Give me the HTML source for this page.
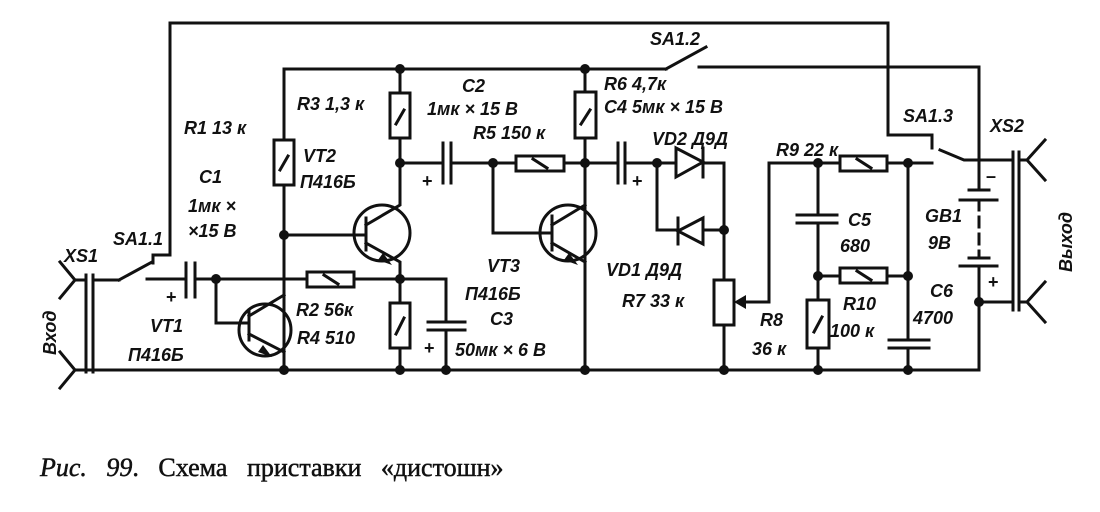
<!DOCTYPE html>
<html><head><meta charset="utf-8"><style>
html,body{margin:0;padding:0;background:#fff;}
svg{display:block}
.t{font-family:"Liberation Sans","DejaVu Sans",sans-serif;font-style:italic;font-weight:bold;font-size:18px;fill:#111;}
</style></head><body>
<svg width="1100" height="512" viewBox="0 0 1100 512" xmlns="http://www.w3.org/2000/svg">
<g stroke="#111" stroke-width="3" fill="none" stroke-linecap="square">
<polyline points="153,263 153,255 170,255 170,23 888,23 888,135 932,135 932,148"/>
<line x1="119" y1="280" x2="152" y2="262"/>
<line x1="93" y1="280" x2="119" y2="280"/>
<line x1="86" y1="275" x2="86" y2="372"/><line x1="93" y1="275" x2="93" y2="372"/>
<polyline points="60,262 75,280 60,298"/><line x1="75" y1="280" x2="86" y2="280"/>
<polyline points="60,352 75,370 60,388"/>
<line x1="75" y1="370" x2="979" y2="370"/>
<line x1="284" y1="69" x2="666" y2="69"/>
<line x1="666" y1="69" x2="706" y2="47"/>
<polyline points="699,67 979,67 979,190"/>
<line x1="284" y1="69" x2="284" y2="370"/>
<rect x="274" y="140" width="20" height="45" fill="#fff"/><line x1="280" y1="170" x2="288" y2="156"/>
<circle cx="382" cy="233" r="28"/>
<line x1="284" y1="235" x2="366" y2="235"/><line x1="366" y1="218" x2="366" y2="250"/>
<polyline points="366,225 400,205 400,69"/>
<polyline points="366,243 400,262 400,370"/>
<rect x="390" y="93" width="20" height="45" fill="#fff"/><line x1="396" y1="124" x2="404" y2="110"/>
<rect x="390" y="303" width="20" height="45" fill="#fff"/><line x1="396" y1="334" x2="404" y2="318"/>
<line x1="147" y1="279" x2="186" y2="279"/>
<line x1="186" y1="263" x2="186" y2="297"/><line x1="195" y1="263" x2="195" y2="297"/>
<line x1="195" y1="279" x2="446" y2="279"/>
<rect x="307" y="272" width="47" height="15" fill="#fff"/><line x1="324" y1="275" x2="338" y2="284"/>
<polyline points="446,279 446,322"/>
<line x1="428" y1="322" x2="465" y2="322"/><line x1="428" y1="330" x2="465" y2="330"/>
<line x1="446" y1="330" x2="446" y2="370"/>
<circle cx="265" cy="330" r="26"/>
<polyline points="216,279 216,323 249,323"/><line x1="249" y1="310" x2="249" y2="340"/>
<polyline points="249,316 284,295"/><polyline points="249,334 284,352"/>
<line x1="400" y1="163" x2="443" y2="163"/>
<line x1="443" y1="143" x2="443" y2="183"/><line x1="451" y1="143" x2="451" y2="183"/>
<line x1="451" y1="163" x2="618" y2="163"/>
<rect x="516" y="156" width="48" height="15" fill="#fff"/><line x1="533" y1="159" x2="547" y2="168"/>
<polyline points="493,163 493,233 552,233"/><line x1="552" y1="216" x2="552" y2="250"/>
<circle cx="568" cy="233" r="28"/>
<polyline points="552,225 585,205"/><polyline points="552,243 585,262"/>
<line x1="585" y1="69" x2="585" y2="370"/>
<rect x="575" y="92" width="21" height="46" fill="#fff"/><line x1="581" y1="124" x2="590" y2="110"/>
<line x1="618" y1="143" x2="618" y2="183"/><line x1="625" y1="143" x2="625" y2="183"/>
<line x1="625" y1="163" x2="724" y2="163"/>
<line x1="724" y1="163" x2="724" y2="370"/>
<polyline points="657,163 657,230 724,230"/>
<line x1="703" y1="148" x2="703" y2="177"/>
<line x1="678" y1="218" x2="678" y2="244"/>
<rect x="714" y="280" width="20" height="45" fill="#fff"/>
<polyline points="769,302 769,163 932,163"/>
<line x1="740" y1="302" x2="769" y2="302"/>
<rect x="840" y="156" width="47" height="15" fill="#fff"/><line x1="857" y1="159" x2="871" y2="168"/>
<line x1="818" y1="163" x2="818" y2="215"/>
<line x1="797" y1="215" x2="837" y2="215"/><line x1="797" y1="223" x2="837" y2="223"/>
<line x1="818" y1="223" x2="818" y2="370"/>
<line x1="818" y1="276" x2="908" y2="276"/>
<rect x="840" y="268" width="47" height="15" fill="#fff"/><line x1="857" y1="271" x2="871" y2="280"/>
<rect x="807" y="300" width="22" height="48" fill="#fff"/><line x1="814" y1="332" x2="822" y2="317"/>
<line x1="908" y1="163" x2="908" y2="340"/>
<line x1="889" y1="340" x2="929" y2="340"/><line x1="889" y1="348" x2="929" y2="348"/>
<line x1="908" y1="348" x2="908" y2="370"/>
<polyline points="940,150 964,160 1013,160"/>
<line x1="969" y1="190" x2="989" y2="190"/><line x1="960" y1="200" x2="997" y2="200"/>
<line x1="979" y1="200" x2="979" y2="258" stroke-dasharray="10,7"/>
<line x1="969" y1="258" x2="989" y2="258"/><line x1="960" y1="266" x2="997" y2="266"/>
<line x1="979" y1="266" x2="979" y2="370"/>
<line x1="979" y1="302" x2="1013" y2="302"/>
<line x1="1013" y1="152" x2="1013" y2="310"/><line x1="1019" y1="152" x2="1019" y2="310"/>
<line x1="1019" y1="160" x2="1027" y2="160"/><polyline points="1045,140 1027,160 1045,180"/>
<line x1="1019" y1="302" x2="1027" y2="302"/><polyline points="1045,282 1027,302 1045,322"/>
</g>
<g fill="#111">
<path d="M378,260 l14,5 -9,-12z M258,352 l14,5 -9,-12z M564,260 l14,5 -9,-12z"/>
<path d="M676,148 L703,162 L676,177Z" fill="#fff" stroke="#111" stroke-width="3"/>
<path d="M703,218 L678,231 L703,244Z" fill="#fff" stroke="#111" stroke-width="3"/>
<path d="M734,302 l12,-7 0,14z"/>
<circle cx="400" cy="69" r="5"/><circle cx="585" cy="69" r="5"/>
<circle cx="284" cy="235" r="5"/><circle cx="400" cy="163" r="5"/><circle cx="493" cy="163" r="5"/>
<circle cx="585" cy="163" r="5"/><circle cx="657" cy="163" r="5"/><circle cx="724" cy="230" r="5"/>
<circle cx="216" cy="279" r="5"/><circle cx="400" cy="279" r="5"/>
<circle cx="818" cy="163" r="5"/><circle cx="908" cy="163" r="5"/>
<circle cx="818" cy="276" r="5"/><circle cx="908" cy="276" r="5"/><circle cx="979" cy="302" r="5"/>
<circle cx="284" cy="370" r="5"/><circle cx="400" cy="370" r="5"/><circle cx="446" cy="370" r="5"/>
<circle cx="585" cy="370" r="5"/><circle cx="724" cy="370" r="5"/><circle cx="818" cy="370" r="5"/><circle cx="908" cy="370" r="5"/>
</g>
<g class="t">
<text x="650" y="45">SA1.2</text>
<text x="604" y="90">R6  4,7к</text>
<text x="604" y="113">C4  5мк × 15 В</text>
<text x="297" y="110">R3  1,3 к</text>
<text x="462" y="92">C2</text>
<text x="427" y="115">1мк × 15 В</text>
<text x="473" y="139">R5  150 к</text>
<text x="184" y="134">R1  13 к</text>
<text x="303" y="162">VT2</text>
<text x="300" y="188">П416Б</text>
<text x="199" y="183">C1</text>
<text x="188" y="212">1мк ×</text>
<text x="188" y="237">×15 В</text>
<text x="113" y="245">SA1.1</text>
<text x="64" y="262">XS1</text>
<text x="150" y="332">VT1</text>
<text x="128" y="361">П416Б</text>
<text x="296" y="316">R2  56к</text>
<text x="297" y="344">R4  510</text>
<text x="487" y="272">VT3</text>
<text x="465" y="300">П416Б</text>
<text x="490" y="325">C3</text>
<text x="455" y="356">50мк × 6 В</text>
<text x="652" y="145">VD2  Д9Д</text>
<text x="606" y="276">VD1   Д9Д</text>
<text x="622" y="307">R7  33 к</text>
<text x="776" y="156">R9   22 к</text>
<text x="903" y="122">SA1.3</text>
<text x="990" y="132">XS2</text>
<text x="848" y="226">C5</text>
<text x="840" y="252">680</text>
<text x="925" y="222">GB1</text>
<text x="928" y="249">9В</text>
<text x="760" y="326">R8</text>
<text x="752" y="355">36 к</text>
<text x="843" y="310">R10</text>
<text x="830" y="337">100 к</text>
<text x="930" y="297">C6</text>
<text x="913" y="324">4700</text>
<text x="986" y="182" font-style="normal">–</text>
<text x="988" y="288" font-style="normal">+</text>
<text x="422" y="187" font-style="normal">+</text>
<text x="166" y="303" font-style="normal">+</text>
<text x="632" y="187" font-style="normal">+</text>
<text x="424" y="354" font-style="normal">+</text>
<text transform="translate(56,355) rotate(-90)">Вход</text>
<text transform="translate(1072,272) rotate(-90)">Выход</text>
</g>
<text x="40" y="476" font-family="'Liberation Serif',serif" font-size="26" word-spacing="13" fill="#111" stroke="#111" stroke-width="0.5"><tspan font-style="italic">Рис. 99</tspan>. Схема приставки «дистошн»</text>
</svg>
</body></html>
